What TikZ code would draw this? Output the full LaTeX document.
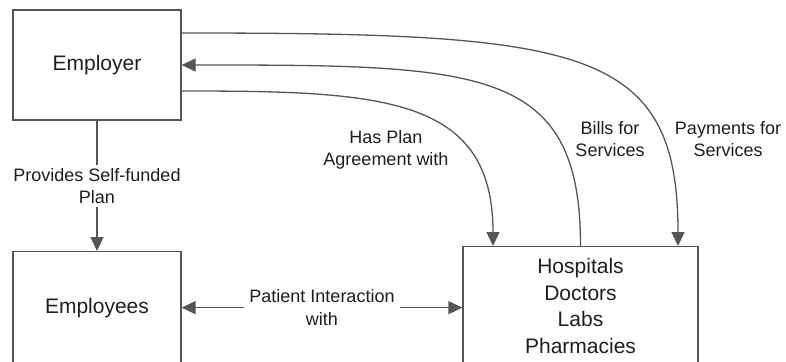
\documentclass[tikz,border=0pt]{standalone}
\usepackage{fontspec}
\setmainfont{Liberation Sans}
\usetikzlibrary{positioning,arrows.meta}
\definecolor{edgegray}{RGB}{85,85,85}
\definecolor{textgray}{RGB}{30,30,30}

\begin{document}
\begin{tikzpicture}[x=1pt, y=-1pt,
    party/.style={draw=edgegray, line width=1.3pt, minimum width=168pt, minimum height=110pt,
                  text=textgray, font=\fontsize{21}{26.5}\selectfont, align=center},
    rel/.style={font=\fontsize{18}{22.5}\selectfont, text=textgray, align=center},
    flow/.style={line width=1.3pt, draw=edgegray},
    >={Triangle[length=14pt, width=13pt]}
  ]
  \useasboundingbox (0,0) rectangle (786,361);
  \clip (0,0) rectangle (786,361);

  \node[party] (employer) at (97,65) {Employer};
  \node[party, minimum height=112pt, anchor=north] (employees) at (97,251) {Employees};
  \node[party, minimum width=235pt, minimum height=0pt, inner ysep=12pt, anchor=north] (providers) at (580.5,246) {Hospitals\\Doctors\\Labs\\Pharmacies};

  \draw[flow, ->] (employer) -- (employees) node[midway, rel, fill=white] {Provides Self-funded\\Plan};
  \draw[flow, <->] (employees.east) -- (employees.east -| providers.west) node[midway, rel, fill=white, inner xsep=5pt] {Patient Interaction\\with};

  \draw[flow, ->] ([yshift=32pt]employer.east) .. controls +(400,0) and +(0,-200) .. ([xshift=97.5pt]providers.north);
  \draw[flow, ->] (providers.north) .. controls +(0,-180) and +(300,0) .. (employer.east);
  \draw[flow, ->] ([yshift=-26pt]employer.east) .. controls +(200,0) and +(0,-150) .. ([xshift=-87.5pt]providers.north);

  \node[rel] (planlabel) at (386,150) {Has Plan\\Agreement with};
  \node[rel] (billslabel) at (610,139) {Bills for\\Services};
  \node[rel] (paylabel) at (728,139) {Payments for\\Services};
\end{tikzpicture}
\end{document}
